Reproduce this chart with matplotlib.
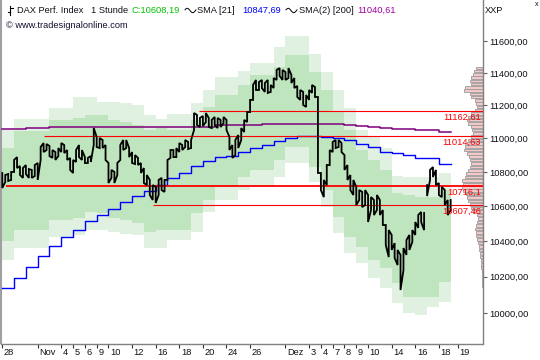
import numpy as np
import matplotlib
matplotlib.use("Agg")
import matplotlib.pyplot as plt
from matplotlib.lines import Line2D
from matplotlib.ticker import FixedLocator, NullLocator, FuncFormatter
import matplotlib.transforms as mtrans

plt.rcParams['font.family'] = ['Liberation Sans', 'DejaVu Sans']

# ---------------- data ----------------
# hourly-ish price samples (every quarter trading day): highs and lows
price_hi = [10794, 10782, 10788, 10800, 10871, 10888, 10835, 10823, 10841, 10817,
            10812, 10841, 10853, 10948, 10972, 10966, 10954, 10930, 10918, 10942,
            10972, 10960, 10930, 10883, 10871, 10930, 10960, 10930, 10888, 10883,
            10894, 11062, 11008, 11002, 10990, 10960, 10853, 10812, 10800, 10853,
            10960, 10990, 10990, 10942, 10918, 10900, 10883, 10853, 10823, 10782,
            10753, 10723, 10712, 10753, 10765, 10753, 10871, 10930, 10930, 10942,
            10972, 10960, 10990, 10978, 10990, 11153, 11141, 11123, 11135, 11153,
            11123, 11111, 11129, 11123, 11111, 11129, 11111, 11008, 10960, 10990,
            11020, 11062, 11111, 11159, 11233, 11325, 11356, 11343, 11356, 11337,
            11356, 11325, 11368, 11418, 11430, 11418, 11405, 11430, 11387, 11368,
            11319, 11294, 11282, 11263, 11294, 11325, 11312, 11251, 10794, 10753,
            10841, 10930, 10978, 10990, 10990, 10972, 10900, 10841, 10782, 10753,
            10712, 10694, 10683, 10694, 10665, 10653, 10636, 10665, 10636, 10578,
            10492, 10463, 10435, 10389, 10350, 10322, 10361, 10406, 10435, 10463,
            10509, 10549, 10567, 10561, 10723, 10812, 10829, 10812, 10735, 10712,
            10694, 10636, 10636]
price_lo = [10706, 10741, 10747, 10753, 10800, 10823, 10782, 10765, 10788, 10765,
            10765, 10776, 10753, 10871, 10918, 10930, 10894, 10883, 10871, 10894,
            10918, 10912, 10871, 10812, 10794, 10859, 10888, 10871, 10853, 10853,
            10859, 10960, 10948, 10942, 10942, 10871, 10735, 10765, 10735, 10782,
            10871, 10930, 10942, 10888, 10853, 10847, 10841, 10794, 10735, 10723,
            10665, 10636, 10619, 10665, 10694, 10683, 10753, 10883, 10888, 10888,
            10918, 10930, 10948, 10936, 10942, 11050, 11080, 11068, 11074, 11098,
            11068, 11062, 11080, 11062, 11068, 11092, 11050, 10930, 10883, 10900,
            10942, 10990, 11038, 11098, 11159, 11233, 11294, 11294, 11306, 11282,
            11276, 11282, 11306, 11356, 11381, 11356, 11356, 11368, 11337, 11306,
            11251, 11233, 11202, 11190, 11233, 11276, 11251, 10794, 10694, 10653,
            10723, 10841, 10918, 10942, 10948, 10918, 10812, 10753, 10694, 10665,
            10607, 10636, 10595, 10607, 10509, 10578, 10549, 10578, 10549, 10492,
            10378, 10310, 10350, 10305, 10265, 10126, 10237, 10322, 10350, 10395,
            10435, 10475, 10509, 10463, 10659, 10753, 10770, 10723, 10665, 10653,
            10607, 10549, 10578]
sample_step_days = 0.25
segment_break = 144          # a new price segment starts here

# daily stepped envelope bands (one value per trading day)
outer_top = [11050, 11117, 11117, 11117, 11184, 11184, 11251, 11251, 11220, 11220,
             11214, 11202, 11141, 11117, 11147, 11147, 11214, 11294, 11374, 11374,
             11412, 11462, 11462, 11562, 11632, 11632, 11517, 11405, 11294, 11184,
             11050, 11014, 10942, 10776, 10770, 10770, 10770, 10794]
inner_top = [10942, 11044, 11044, 11044, 11111, 11111, 11123, 11141, 11141, 11111,
             11098, 11080, 11050, 11068, 11050, 11050, 11111, 11190, 11263, 11263,
             11325, 11387, 11387, 11436, 11511, 11511, 11405, 11294, 11159, 11050,
             10930, 10871, 10812, 10677, 10665, 10653, 10653, 10694]
inner_bot = [10401, 10463, 10463, 10463, 10521, 10521, 10532, 10567, 10561, 10532,
             10521, 10503, 10452, 10463, 10463, 10463, 10561, 10636, 10712, 10712,
             10770, 10812, 10812, 10871, 10948, 10948, 10829, 10694, 10538, 10423,
             10367, 10293, 10249, 10165, 10088, 10088, 10088, 10170]
outer_bot = [10293, 10361, 10361, 10361, 10423, 10423, 10435, 10463, 10463, 10452,
             10441, 10435, 10361, 10361, 10406, 10406, 10452, 10567, 10636, 10636,
             10694, 10712, 10712, 10770, 10853, 10853, 10741, 10595, 10446, 10333,
             10277, 10193, 10137, 10055, 10000, 9989, 10033, 10060]

# daily moving averages
sma21 = [10136, 10191, 10253, 10318, 10374, 10422, 10463, 10515, 10549, 10582,
         10623, 10661, 10690, 10721, 10763, 10796, 10837, 10867, 10887, 10894,
         10917, 10940, 10962, 10984, 11000, 11014, 11014, 11010, 11000, 10990,
         10964, 10950, 10920, 10914, 10900, 10881, 10881, 10848]
sma200 = [11054, 11054, 11060, 11060, 11066, 11066, 11066, 11066, 11071, 11071,
          11071, 11071, 11071, 11071, 11071, 11071, 11071, 11071, 11078, 11078,
          11078, 11078, 11084, 11084, 11084, 11084, 11084, 11084, 11084, 11080,
          11076, 11070, 11064, 11058, 11054, 11050, 11050, 11041]

# horizontal levels
levels = [11162.61, 11014.63, 10716.1, 10607.46]
level_labels = ["11162,61", "11014,63", "10716,1", "10607,46"]
level_start_day = [16.7, 3.55, 0.35, 12.8]
level_width = [0.8, 0.8, 1.3, 0.8]

# volume profile (price bins of 20 points, from 10150 to 11430)
profile_prices = np.arange(10150, 11450, 20)
profile_volume = [1, 1, 1.5, 1.5, 1.5, 2, 2, 2.5, 3, 3, 4, 4, 5, 6, 7, 7, 8, 7, 6, 5,
                  6, 10, 12, 13, 15, 16, 17, 20, 21, 20, 21, 18, 17, 15, 13, 12, 13, 14, 16, 19,
                  18, 16, 15, 12, 10, 11, 12, 15, 16, 15, 12, 8, 6, 7, 8, 12, 13, 19, 18, 12,
                  13, 12, 10, 9, 7]

# axes ticks
date_pos = [0, 3, 5, 6, 7, 8, 9, 11, 13, 15, 17, 19, 21, 24, 26, 27, 28, 29, 30, 31,
            33, 35, 37, 38.6]
date_labels = ["28", "Nov", "4", "5", "6", "9", "10", "12", "16", "18", "20", "24", "26",
               "Dez", "3", "4", "7", "8", "9", "10", "14", "16", "18", "19"]
price_ticks = [10000, 10200, 10400, 10600, 10800, 11000, 11200, 11400, 11600]

# ---------------- figure ----------------
W, H = 540, 360
fig = plt.figure(figsize=(W / 100, H / 100), dpi=100)
ax_left, ax_right, ax_bottom = 1, 483, 343.5
rect = [ax_left / W, (H - ax_bottom) / H, (ax_right - ax_left) / W, ax_bottom / H]
ymin, ymax = 9835.0, 11862.4

# volume profile axes (underneath), bars grow leftwards from the right edge
axp = fig.add_axes(rect, zorder=1)
axp.set_yscale('log')
axp.set_ylim(ymin, ymax)
axp.set_xlim(ax_right - ax_left, 0)
axp.barh(profile_prices, profile_volume, height=15, color='#f2c8c8', edgecolor='#9a9a9a',
         linewidth=0.6)
axp.axis('off')

ax = fig.add_axes(rect, zorder=2)
ax.patch.set_visible(False)

LIGHT = '#e1f1e1'
DARK = '#bfe5bf'

n_days = len(outer_top)
xd = np.arange(n_days + 1)
def ext(v):
    return list(v) + [v[-1]]

ax.fill_between(xd, ext(outer_bot), ext(outer_top), step='post', color=LIGHT, lw=0, zorder=1)
ax.fill_between(xd, ext(inner_bot), ext(inner_top), step='post', color=DARK, lw=0, zorder=2)

ax.step(xd, ext(sma200), where='post', color='#800080', lw=1.1, zorder=4)
ax.step(xd, ext(sma21), where='post', color='#0000ff', lw=1.0, zorder=4)

xlim_right = 40.74
for lv, lab, st, lw in zip(levels, level_labels, level_start_day, level_width):
    ax.plot([st, xlim_right], [lv, lv], color='#ff0000', lw=lw, zorder=5, solid_capstyle='butt')
    ax.annotate(lab, xy=(1.0, lv), xycoords=('axes fraction', 'data'),
                xytext=(-1.5, -1.2), textcoords='offset points',
                ha='right', va='top', color='#ff0000', fontsize=6.7, zorder=7)

# price bars as a zig-zag path
xs = np.arange(len(price_hi)) * sample_step_days
px, py = [], []
prev = None
for i in range(len(price_hi)):
    if i == segment_break:
        px.append(np.nan); py.append(np.nan); prev = None
    a, b = price_hi[i], price_lo[i]
    if prev is not None and abs(prev - a) > abs(prev - b):
        a, b = b, a
    px += [xs[i], xs[i]]
    py += [a, b]
    prev = b
ax.plot(px, py, color='black', lw=1.3, zorder=6, solid_joinstyle='miter')

ax.set_yscale('log')
ax.set_ylim(ymin, ymax)
ax.set_xlim(-0.11, xlim_right)

# spines
ax.spines['top'].set_visible(False)
ax.spines['right'].set_color('#808080')
ax.spines['right'].set_linewidth(1.0)
ax.spines['bottom'].set_color('#808080')
ax.spines['bottom'].set_linewidth(1.0)
ax.spines['left'].set_color('#a0a0a0')
ax.spines['left'].set_linewidth(1.5)

# y ticks on the right
ax.yaxis.tick_right()
ax.yaxis.set_major_locator(FixedLocator(price_ticks))
ax.yaxis.set_minor_locator(NullLocator())
ax.yaxis.set_major_formatter(FuncFormatter(lambda v, p: f"{v:.2f}".replace('.', ',')))
ax.tick_params(axis='y', which='major', length=3, width=0.8, color='#606060',
               labelsize=6.7, pad=1.5, labelcolor='#101018')

# x ticks (labels start just right of each tick)
ax.set_xticks(date_pos)
ax.set_xticklabels(date_labels)
ax.xaxis.set_minor_locator(NullLocator())
ax.tick_params(axis='x', which='major', length=3, width=0.8, color='#303030',
               labelsize=6.7, pad=0.5, labelcolor='#101018')
offset = mtrans.ScaledTranslation(1.5 / 100, 0, fig.dpi_scale_trans)
for lbl in ax.get_xticklabels():
    lbl.set_horizontalalignment('left')
    lbl.set_transform(lbl.get_transform() + offset)

# header texts
def ftxt(x, y, s, size=6.7, **kw):
    fig.text(x / W, 1 - y / H, s, va='center', ha='left', fontsize=size, **kw)

# OHLC bar icon
fig.add_artist(Line2D([10 / W, 10 / W], [1 - 6 / H, 1 - 15 / H], color='black', lw=0.8))
fig.add_artist(Line2D([7.5 / W, 10 / W], [1 - 12 / H, 1 - 12 / H], color='black', lw=0.8))
fig.add_artist(Line2D([10 / W, 12.5 / W], [1 - 8 / H, 1 - 8 / H], color='black', lw=0.8))

ftxt(17, 10.5, "DAX Perf. Index", color='#101018')
ftxt(91, 10.5, "1 Stunde", color='#101018')
ftxt(131, 10.5, "C:10608,19", color='#00c000')
def wave(x0):
    t = np.linspace(0, 1, 30)
    fig.add_artist(Line2D((x0 + 11 * t) / W, 1 - (10.5 - 2.2 * np.sin(2 * np.pi * t + 0.3)) / H,
                          color='black', lw=0.7))
wave(185)
ftxt(197, 10.5, "SMA [21]", color='#101018')
ftxt(242, 10.5, "10847,69", color='#0000ff')
wave(286)
ftxt(299, 10.5, "SMA(2) [200]", color='#101018')
ftxt(357, 10.5, "11040,61", color='#a000a0')
ftxt(6, 25, "\u00a9 www.tradesignalonline.com", color='#101030')
ftxt(485, 10.5, "XXP", color='#101018')
ftxt(535, 4.5, "x", size=5, color='#101018')

fig.savefig("out.png", dpi=100)
